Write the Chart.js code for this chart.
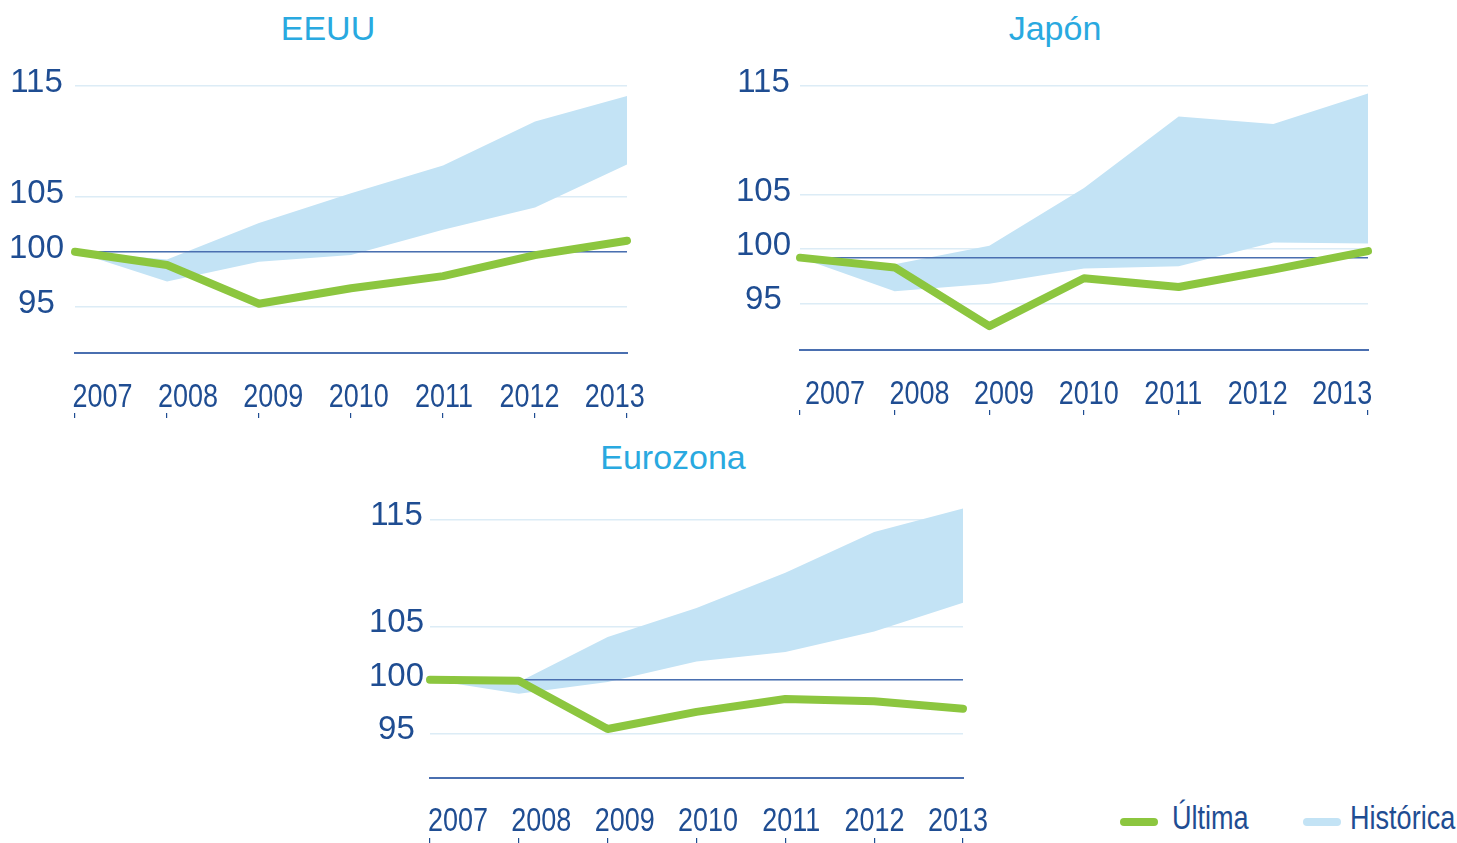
<!DOCTYPE html>
<html><head><meta charset="utf-8">
<script src="https://cdn.jsdelivr.net/npm/chart.js@4"></script>
<style>
body{margin:0;width:1457px;height:843px;background:#fff;position:relative;overflow:hidden;font-family:'Liberation Sans',Arial,sans-serif;}
.box{position:absolute;}
.title{position:absolute;color:#29a9e0;font-size:34px;transform:translate(-50%,-50%);white-space:nowrap;line-height:1;}
.lg-sw{position:absolute;height:8px;border-radius:4px;}
.lg-tx{position:absolute;color:#1f4d92;font-size:33px;transform:translateY(-50%) scaleX(0.82);transform-origin:left center;line-height:1;white-space:nowrap;}
</style></head><body>

<div class="title" style="left:328px;top:28px">EEUU</div>
<div class="title" style="left:1055px;top:28px">Japón</div>
<div class="title" style="left:673px;top:457px">Eurozona</div>

<div class="box" style="left:0px;top:40px"><canvas id="c1"></canvas></div>
<div class="box" style="left:725px;top:40px"><canvas id="c2"></canvas></div>
<div class="box" style="left:355px;top:468px"><canvas id="c3"></canvas></div>

<div class="lg-sw" style="left:1120px;top:818px;width:38px;background:#8cc63f"></div>
<div class="lg-tx" style="left:1172px;top:817px">Última</div>
<div class="lg-sw" style="left:1303px;top:818px;width:38px;background:#c3e3f5"></div>
<div class="lg-tx" style="left:1350px;top:817px">Histórica</div>

<script>
// ---- data ----
const years = ['2007','2008','2009','2010','2011','2012','2013'];
const yTicks = [95, 100, 105, 115];

const eeuuUltima  = [100.0, 98.8, 95.3, 96.7, 97.8, 99.7, 101.0];
const eeuuHistMax = [100.0, 99.3, 102.6, 105.3, 107.8, 111.8, 114.1];
const eeuuHistMin = [100.0, 97.3, 99.1, 99.7, 102.0, 104.0, 107.9];
const eeuuRef     = [100, 100, 100, 100, 100, 100, 100];

const japonUltima  = [99.2, 98.3, 92.9, 97.3, 96.5, 98.1, 99.8];
const japonHistMax = [99.2, 98.6, 100.3, 105.6, 112.2, 111.5, 114.3];
const japonHistMin = [99.2, 96.1, 96.8, 98.2, 98.4, 100.6, 100.5];
const japonRef     = [99.2, 99.2, 99.2, 99.2, 99.2, 99.2, 99.2];

const euroUltima  = [100.0, 99.9, 95.4, 97.0, 98.2, 98.0, 97.3];
const euroHistMax = [100.0, 99.8, 104.0, 106.7, 110.0, 113.8, 116.0];
const euroHistMin = [100.0, 98.7, 99.8, 101.7, 102.6, 104.5, 107.2];
const euroRef     = [100, 100, 100, 100, 100, 100, 100];

// ---- styles ----
const NAVY = '#1f4d92';
const DARK = '#4a6fb0';
const GRID = '#dcecf6';
const GREEN = '#8cc63f';
const BAND = '#c3e3f5';
const REG = "'Liberation Sans',Arial,sans-serif";

// draws the year tick labels of the 'xl' axis in a condensed face
const condensedLabels = {
  id: 'condensedLabels',
  afterDraw(chart, args, opts) {
    const sc = chart.scales.xl;
    const ctx = chart.ctx;
    ctx.save();
    ctx.font = '32.5px ' + REG;
    ctx.fillStyle = NAVY;
    ctx.textAlign = 'center';
    ctx.textBaseline = 'middle';
    sc.ticks.forEach((t, i) => {
      const x = sc.getPixelForValue(t.value);
      const y = sc.top + opts.dy;
      ctx.save();
      ctx.translate(x, y);
      ctx.scale(0.83, 1);
      ctx.fillText(years[i], 0, 0);
      ctx.restore();
    });
    ctx.restore();
  }
};

function makeChart(id, cfg) {
  const cv = document.getElementById(id);
  cv.width = cfg.w; cv.height = cfg.h;
  cv.style.width = cfg.w + 'px'; cv.style.height = cfg.h + 'px';
  new Chart(cv, {
    type: 'line',
    plugins: [condensedLabels],
    data: {
      labels: years,
      datasets: [
        { label: 'Última', data: cfg.ultima, xAxisID: 'x', yAxisID: 'y', borderColor: GREEN, borderWidth: 8,
          borderCapStyle: 'round', borderJoinStyle: 'round', pointRadius: 0, fill: false, clip: false, tension: 0 },
        { label: 'ref', data: cfg.ref, xAxisID: 'x', yAxisID: 'y', borderColor: DARK, borderWidth: 1.5, pointRadius: 0, fill: false },
        { label: 'Histórica', data: cfg.histMax, xAxisID: 'x', yAxisID: 'y', borderWidth: 0, borderColor: 'rgba(0,0,0,0)',
          backgroundColor: BAND, pointRadius: 0, fill: '+1' },
        { label: 'min', data: cfg.histMin, xAxisID: 'x', yAxisID: 'y', borderWidth: 0, borderColor: 'rgba(0,0,0,0)', pointRadius: 0, fill: false }
      ]
    },
    options: {
      responsive: false, animation: false, events: [],
      layout: { autoPadding: false, padding: { top: 35, right: 40, left: 0, bottom: 0 } },
      plugins: { legend: { display: false }, tooltip: { enabled: false }, title: { display: false },
                 condensedLabels: { dy: cfg.labelDy } },
      scales: {
        y: {
          type: 'linear', min: cfg.ymin, max: cfg.ymax,
          afterBuildTicks: (ax) => { ax.ticks = yTicks.map(v => ({ value: v })); },
          afterFit: (ax) => { ax.width = 75; },
          grid: { color: GRID, lineWidth: 1.5, drawTicks: false },
          border: { display: false },
          ticks: { color: NAVY, font: { family: REG, size: 33 }, crossAlign: 'center', padding: cfg.yPad,
                   labelOffset: -3, autoSkip: false }
        },
        xl: {
          type: 'linear', position: 'bottom', axis: 'x', min: 0, max: 6, weight: 1,
          afterBuildTicks: (ax) => { ax.ticks = years.map((_, i) => ({ value: cfg.lOff + i * cfg.lStep })); },
          afterFit: (ax) => { ax.height = 60; },
          grid: { display: false, drawTicks: false },
          border: { display: true, color: DARK, width: 2 },
          ticks: { display: false, autoSkip: false }
        },
        x: {
          type: 'category', position: 'bottom', weight: 2,
          afterFit: (ax) => { ax.height = 12; },
          grid: { display: true, drawOnChartArea: false, drawTicks: true, tickLength: 5, color: NAVY, lineWidth: 1.2 },
          border: { display: false },
          ticks: { display: false }
        }
      }
    }
  });
}

makeChart('c1', { w: 667, h: 385, ymin: 90.84, ymax: 116.0, yPad: 11, labelDy: 45,
  lOff: 0.30, lStep: 0.928,
  ultima: eeuuUltima, histMax: eeuuHistMax, histMin: eeuuHistMin, ref: eeuuRef });
makeChart('c2', { w: 683, h: 382, ymin: 90.70, ymax: 116.01, yPad: 9, labelDy: 45,
  lOff: 0.37, lStep: 0.893,
  ultima: japonUltima, histMax: japonHistMax, histMin: japonHistMin, ref: japonRef });
makeChart('c3', { w: 648, h: 382, ymin: 90.82, ymax: 116.52, yPad: 6, labelDy: 44,
  lOff: 0.315, lStep: 0.938,
  ultima: euroUltima, histMax: euroHistMax, histMin: euroHistMin, ref: euroRef });
</script>
</body></html>
